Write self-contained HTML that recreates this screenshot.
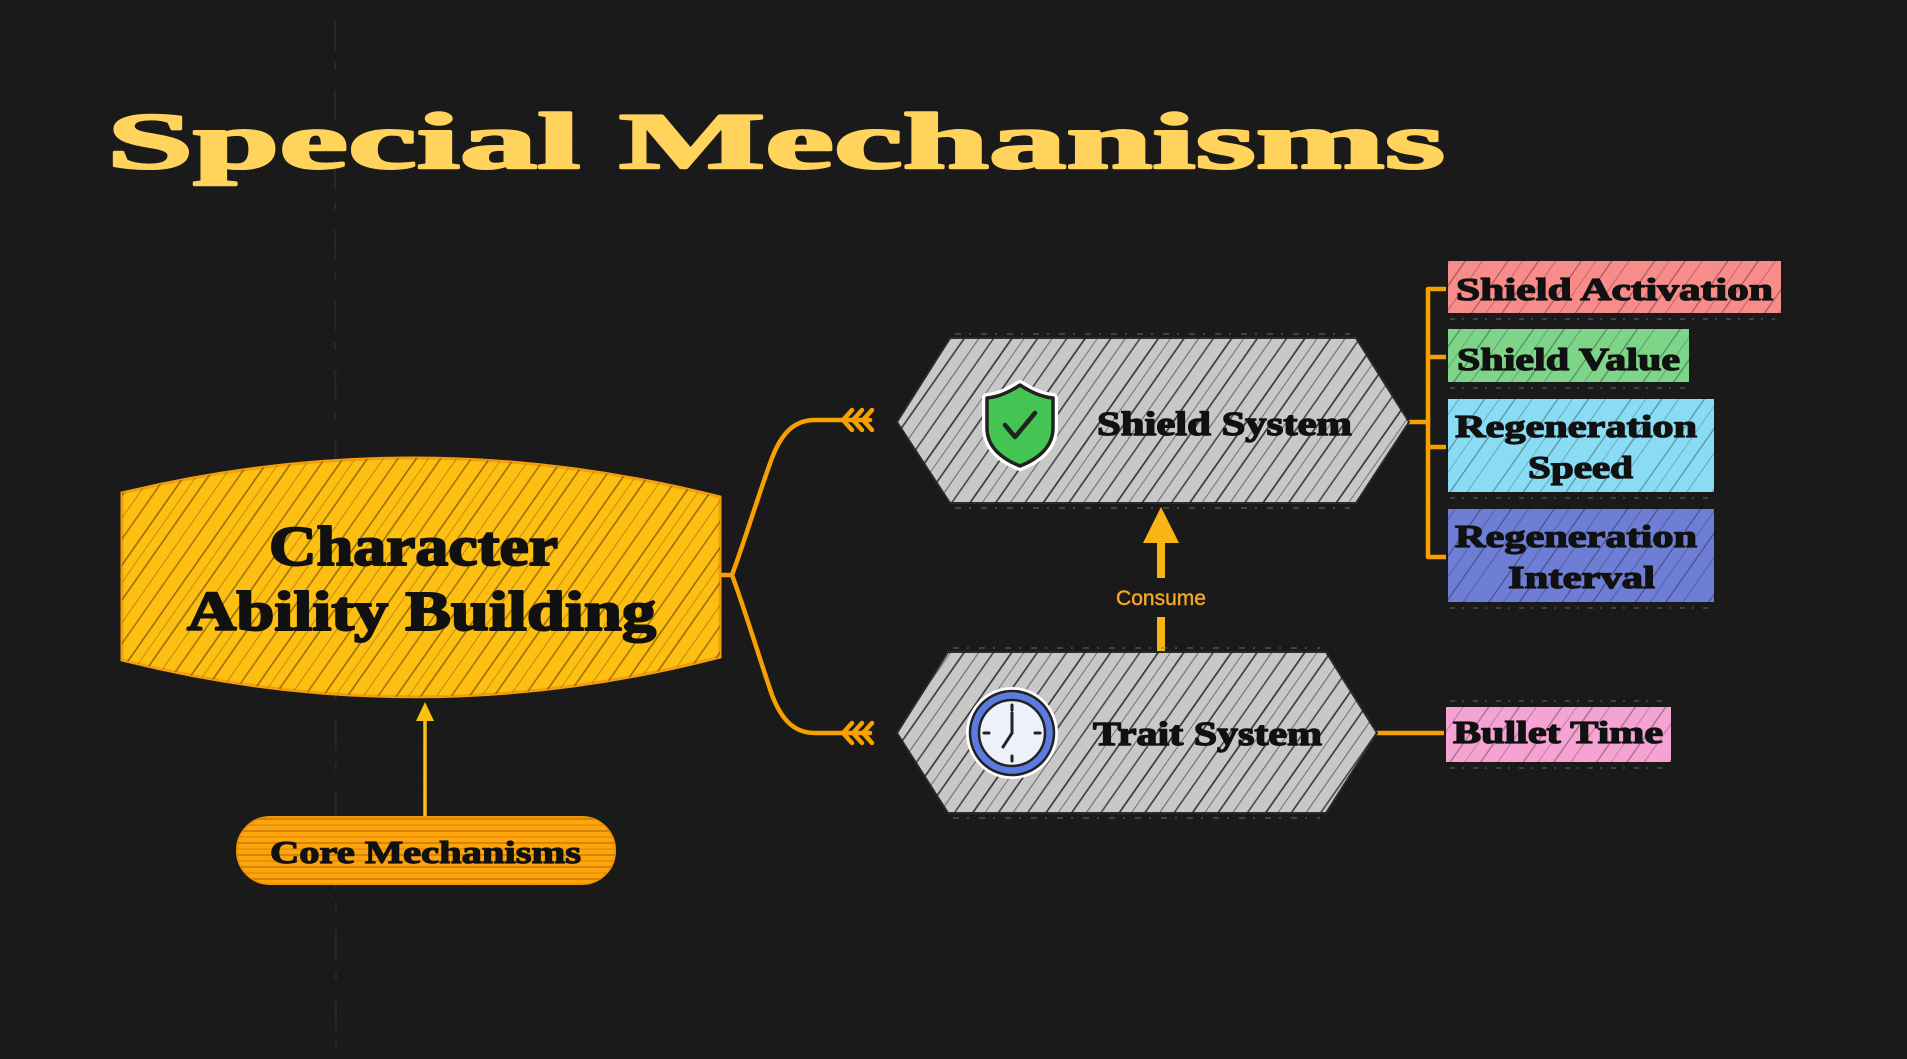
<!DOCTYPE html>
<html><head><meta charset="utf-8"><style>
html,body{margin:0;padding:0;background:#131313;}
svg{display:block;}
</style></head><body>
<svg width="1907" height="1059" viewBox="0 0 1907 1059" xmlns="http://www.w3.org/2000/svg">
<defs>
<filter id="noise" x="0" y="0" width="100%" height="100%">
<feTurbulence type="fractalNoise" baseFrequency="0.9" numOctaves="2" seed="3"/>
<feColorMatrix values="0 0 0 0 1  0 0 0 0 1  0 0 0 0 1  0 0 0 0.06 0"/>
</filter>
<pattern id="hY" width="60" height="60" patternUnits="userSpaceOnUse" patternTransform="rotate(35)">
<line x1="4" y1="0" x2="4" y2="60" stroke="#6e4a00" stroke-width="1.4" opacity=".8"/>
<line x1="14" y1="0" x2="14" y2="60" stroke="#6e4a00" stroke-width="1" opacity=".4"/>
<line x1="24" y1="0" x2="24" y2="60" stroke="#6e4a00" stroke-width="1.5" opacity=".75"/>
<line x1="37" y1="0" x2="37" y2="60" stroke="#6e4a00" stroke-width="1" opacity=".45"/>
<line x1="49" y1="0" x2="49" y2="60" stroke="#6e4a00" stroke-width="1.4" opacity=".7"/>
</pattern>
<pattern id="hG" width="60" height="60" patternUnits="userSpaceOnUse" patternTransform="rotate(35)">
<line x1="3" y1="0" x2="3" y2="60" stroke="#1c1c1c" stroke-width="1.6" opacity=".9"/>
<line x1="13" y1="0" x2="13" y2="60" stroke="#1c1c1c" stroke-width="1" opacity=".5"/>
<line x1="24" y1="0" x2="24" y2="60" stroke="#1c1c1c" stroke-width="1.6" opacity=".85"/>
<line x1="36" y1="0" x2="36" y2="60" stroke="#1c1c1c" stroke-width="1.1" opacity=".55"/>
<line x1="48" y1="0" x2="48" y2="60" stroke="#1c1c1c" stroke-width="1.5" opacity=".8"/>
</pattern>
<pattern id="hC" width="60" height="60" patternUnits="userSpaceOnUse" patternTransform="rotate(35)">
<line x1="5" y1="0" x2="5" y2="60" stroke="#000" stroke-width="1.2" opacity=".35"/>
<line x1="17" y1="0" x2="17" y2="60" stroke="#000" stroke-width="1" opacity=".22"/>
<line x1="30" y1="0" x2="30" y2="60" stroke="#000" stroke-width="1.3" opacity=".35"/>
<line x1="44" y1="0" x2="44" y2="60" stroke="#000" stroke-width="1" opacity=".25"/>
</pattern>
<pattern id="hH" width="200" height="12" patternUnits="userSpaceOnUse">
<line x1="0" y1="3" x2="200" y2="3" stroke="#8a5200" stroke-width="1.2" opacity=".6"/>
<line x1="0" y1="9" x2="200" y2="9" stroke="#8a5200" stroke-width="1" opacity=".4"/>
</pattern>
</defs>

<!-- background -->
<rect x="0" y="0" width="1907" height="1059" fill="#131313"/>
<rect x="0" y="0" width="1907" height="1059" filter="url(#noise)"/>
<line x1="335" y1="20" x2="336" y2="1059" stroke="#3a3a3a" stroke-width="2" stroke-dasharray="30 12 8 20" opacity=".45"/>

<!-- title -->
<text x="107" y="168" font-family="Liberation Serif, serif" font-weight="bold" font-size="80" fill="#FFD35C" stroke="#FFD35C" stroke-width="2.5" stroke-linejoin="round" textLength="1338" lengthAdjust="spacingAndGlyphs">Special Mechanisms</text>

<!-- connectors -->
<g fill="none" stroke="#F7A000" stroke-width="4.5" stroke-linecap="round" stroke-linejoin="round">
<path d="M720 575 H732 C745 540 760 490 772 458 C782 432 795 420 815 420 H870"/>
<path d="M732 575 C745 610 760 660 772 695 C782 721 795 733 815 733 H870"/>
<path d="M843 420 l9 -10 M843 420 l9 10 M853 420 l9 -10 M853 420 l9 10 M863 420 l9 -10 M863 420 l9 10"/>
<path d="M843 733 l9 -10 M843 733 l9 10 M853 733 l9 -10 M853 733 l9 10 M863 733 l9 -10 M863 733 l9 10"/>
<!-- bracket -->
<path d="M1409 422 H1428 M1446 289 H1428 V557 H1446 M1428 357 H1446 M1428 447 H1446"/>
<path d="M1377 733 H1445"/>
</g>

<!-- core arrow -->
<line x1="425" y1="817" x2="425" y2="716" stroke="#FDC010" stroke-width="3.5"/>
<polygon points="425,702 416,721 434,721" fill="#FDC010"/>

<!-- consume arrow -->
<g fill="#F8B514">
<polygon points="1161,507 1143,543 1179,543"/>
<rect x="1157" y="542" width="8" height="36"/>
<rect x="1157" y="617" width="8" height="35"/>
</g>
<text x="1161" y="605" text-anchor="middle" font-family="Liberation Sans, sans-serif" font-size="21" fill="#F5A623" stroke="#F5A623" stroke-width="0.4">Consume</text>

<!-- main node -->
<path d="M122 493 Q420 421 720 497 L720 657 Q420 735 122 660 Z" fill="#FDBF12" stroke="#F59E0B" stroke-width="3"/>
<path d="M122 493 Q420 421 720 497 L720 657 Q420 735 122 660 Z" fill="url(#hY)"/>
<g font-family="Liberation Serif, serif" font-weight="bold" fill="#111" stroke="#111" stroke-linejoin="round">
<text x="269" y="565" font-size="56" stroke-width="2" textLength="289" lengthAdjust="spacingAndGlyphs">Character</text>
<text x="187" y="630" font-size="56" stroke-width="2" textLength="469" lengthAdjust="spacingAndGlyphs">Ability Building</text>
</g>

<!-- core pill -->
<rect x="237" y="817" width="378" height="67" rx="33" fill="#FFA40A" stroke="#F59500" stroke-width="2"/>
<rect x="237" y="817" width="378" height="67" rx="33" fill="url(#hH)"/>
<text x="270" y="863" font-family="Liberation Serif, serif" font-weight="bold" font-size="32" fill="#111" stroke="#111" stroke-width="1.2" stroke-linejoin="round" textLength="311" lengthAdjust="spacingAndGlyphs">Core Mechanisms</text>

<!-- shield hex -->
<path d="M897 422 L950 338 L1356 338 L1409 422 L1356 503 L950 503 Z" fill="#C8C8C8" stroke="#2a2a2a" stroke-width="2"/>
<path d="M897 422 L950 338 L1356 338 L1409 422 L1356 503 L950 503 Z" fill="url(#hG)"/>
<line x1="955" y1="334" x2="1350" y2="334" stroke="#777" stroke-width="1.5" stroke-dasharray="6 8 2 10" opacity=".6"/>
<line x1="955" y1="508" x2="1350" y2="508" stroke="#777" stroke-width="1.5" stroke-dasharray="6 8 2 10" opacity=".6"/>
<!-- shield icon -->
<path d="M1020 385 C1008 393 998 397 987 398 L987 428 C987 447 1002 459 1020 466 C1038 459 1053 447 1053 428 L1053 398 C1042 397 1032 393 1020 385 Z" fill="#fff" stroke="#fff" stroke-width="10" stroke-linejoin="round"/>
<path d="M1020 385 C1008 393 998 397 987 398 L987 428 C987 447 1002 459 1020 466 C1038 459 1053 447 1053 428 L1053 398 C1042 397 1032 393 1020 385 Z" fill="#44C553" stroke="#222" stroke-width="3.5" stroke-linejoin="round"/>
<path d="M1005 425 L1015 437 L1035 413" fill="none" stroke="#222" stroke-width="4.5" stroke-linecap="round" stroke-linejoin="round"/>
<text x="1097" y="435" font-family="Liberation Serif, serif" font-weight="bold" font-size="34" fill="#111" stroke="#111" stroke-width="1.4" stroke-linejoin="round" textLength="255" lengthAdjust="spacingAndGlyphs">Shield System</text>

<!-- trait hex -->
<path d="M897 733 L948 652 L1326 652 L1377 733 L1326 813 L948 813 Z" fill="#C8C8C8" stroke="#2a2a2a" stroke-width="2"/>
<path d="M897 733 L948 652 L1326 652 L1377 733 L1326 813 L948 813 Z" fill="url(#hG)"/>
<line x1="953" y1="648" x2="1320" y2="648" stroke="#777" stroke-width="1.5" stroke-dasharray="6 8 2 10" opacity=".6"/>
<line x1="953" y1="818" x2="1320" y2="818" stroke="#777" stroke-width="1.5" stroke-dasharray="6 8 2 10" opacity=".6"/>
<!-- clock icon -->
<circle cx="1012" cy="733" r="46" fill="#fff"/>
<circle cx="1012" cy="733" r="42" fill="#5B7BE0" stroke="#222" stroke-width="2.5"/>
<circle cx="1012" cy="733" r="33" fill="#EEF0FA" stroke="#222" stroke-width="2.5"/>
<g stroke="#222" stroke-width="3" stroke-linecap="round">
<line x1="1012" y1="705" x2="1012" y2="710"/>
<line x1="1012" y1="756" x2="1012" y2="761"/>
<line x1="984" y1="733" x2="989" y2="733"/>
<line x1="1035" y1="733" x2="1040" y2="733"/>
<line x1="1012" y1="733" x2="1012" y2="713"/>
<line x1="1012" y1="733" x2="1003" y2="747"/>
</g>
<text x="1093" y="745" font-family="Liberation Serif, serif" font-weight="bold" font-size="34" fill="#111" stroke="#111" stroke-width="1.4" stroke-linejoin="round" textLength="229" lengthAdjust="spacingAndGlyphs">Trait System</text>

<!-- right boxes -->
<g stroke="#1a1a1a" stroke-width="2">
<rect x="1447" y="260" width="335" height="54" fill="#F88C8A"/>
<rect x="1447" y="328" width="243" height="55" fill="#7ED58A"/>
<rect x="1447" y="398" width="268" height="95" fill="#8ADCF5"/>
<rect x="1447" y="508" width="268" height="95" fill="#6E7ED4"/>
<rect x="1445" y="706" width="227" height="57" fill="#F5A3D3"/>
</g>
<g fill="url(#hC)">
<rect x="1447" y="260" width="335" height="54"/>
<rect x="1447" y="328" width="243" height="55"/>
<rect x="1447" y="398" width="268" height="95"/>
<rect x="1447" y="508" width="268" height="95"/>
<rect x="1445" y="706" width="227" height="57"/>
</g>
<g stroke="#777" stroke-width="1.5" stroke-dasharray="5 7 2 9" opacity=".55">
<line x1="1450" y1="319" x2="1775" y2="319"/>
<line x1="1450" y1="388" x2="1690" y2="388"/>
<line x1="1450" y1="498" x2="1710" y2="498"/>
<line x1="1450" y1="608" x2="1710" y2="608"/>
<line x1="1450" y1="768" x2="1668" y2="768"/>
<line x1="1450" y1="701" x2="1668" y2="701"/>
</g>
<g font-family="Liberation Serif, serif" font-weight="bold" font-size="32" fill="#111" stroke="#111" stroke-width="1.3" stroke-linejoin="round">
<text x="1456" y="300" textLength="317" lengthAdjust="spacingAndGlyphs">Shield Activation</text>
<text x="1457" y="370" textLength="223" lengthAdjust="spacingAndGlyphs">Shield Value</text>
<text x="1455" y="437" textLength="242" lengthAdjust="spacingAndGlyphs">Regeneration</text>
<text x="1528" y="478" textLength="105" lengthAdjust="spacingAndGlyphs">Speed</text>
<text x="1455" y="547" textLength="242" lengthAdjust="spacingAndGlyphs">Regeneration</text>
<text x="1508" y="588" textLength="147" lengthAdjust="spacingAndGlyphs">Interval</text>
<text x="1453" y="743" textLength="210" lengthAdjust="spacingAndGlyphs">Bullet Time</text>
</g>
</svg>
</body></html>
